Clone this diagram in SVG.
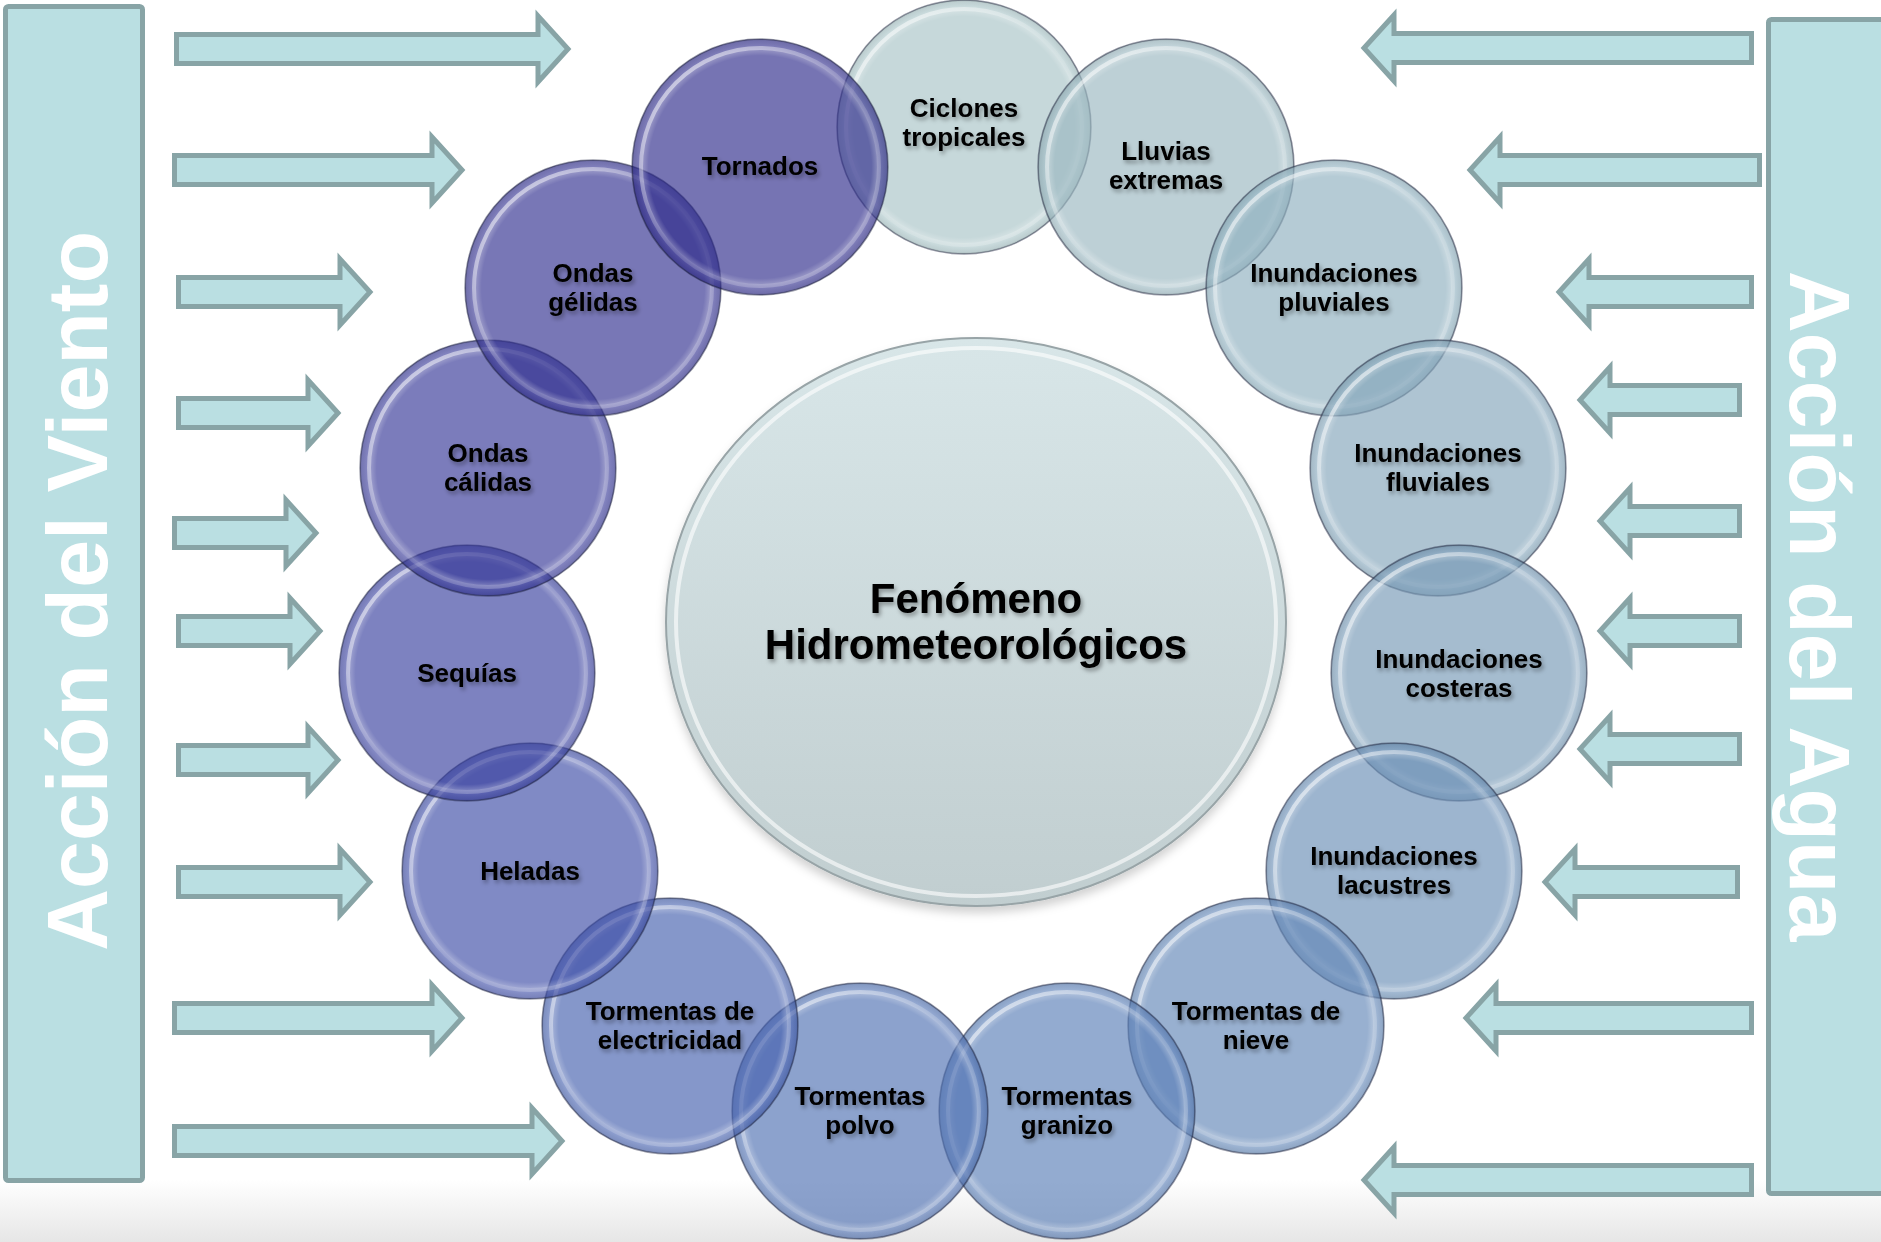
<svg xmlns="http://www.w3.org/2000/svg" width="1881" height="1242" viewBox="0 0 1881 1242">
<defs>
<style>
.bar{fill:#badfe2;stroke:#88a4a6;stroke-width:5}
.arr{fill:#badfe2;stroke:#88a4a6;stroke-width:5;stroke-linejoin:miter}
.side{font-family:"Liberation Sans",Arial,sans-serif;font-weight:bold;font-size:86px;fill:#ffffff}
.lbl{font-family:"Liberation Sans",Arial,sans-serif;font-weight:bold;font-size:26px;fill:#000;text-anchor:middle;filter:url(#tsh)}
.big{font-family:"Liberation Sans",Arial,sans-serif;font-weight:bold;font-size:42px;fill:#000;text-anchor:middle;filter:url(#tsh)}
.disc{fill-opacity:0.65;stroke:#1e2440;stroke-opacity:0.45;stroke-width:1.5}
.rim{fill:url(#rim)}
.hl{fill:none;stroke:url(#hl);stroke-width:4}
</style>
<linearGradient id="band" x1="0" y1="0" x2="0" y2="1">
<stop offset="0" stop-color="#ffffff"/>
<stop offset="1" stop-color="#e6e6e6"/>
</linearGradient>
<radialGradient id="rim" cx="0.5" cy="0.5" r="0.5">
<stop offset="0" stop-color="#fff" stop-opacity="0"/>
<stop offset="0.87" stop-color="#fff" stop-opacity="0"/>
<stop offset="0.91" stop-color="#fff" stop-opacity="0.2"/>
<stop offset="0.95" stop-color="#fff" stop-opacity="0.05"/>
<stop offset="0.985" stop-color="#000" stop-opacity="0.04"/>
<stop offset="1" stop-color="#000" stop-opacity="0.2"/>
</radialGradient>
<linearGradient id="hl" x1="0" y1="0" x2="1" y2="1">
<stop offset="0" stop-color="#fff" stop-opacity="0.7"/>
<stop offset="0.5" stop-color="#fff" stop-opacity="0.12"/>
<stop offset="1" stop-color="#fff" stop-opacity="0.3"/>
</linearGradient>
<linearGradient id="bigfill" x1="0" y1="0" x2="0" y2="1">
<stop offset="0" stop-color="#d8e6e8"/>
<stop offset="1" stop-color="#c1ced0"/>
</linearGradient>
<filter id="tsh" x="-20%" y="-50%" width="140%" height="200%">
<feGaussianBlur in="SourceAlpha" stdDeviation="2"/>
<feOffset dx="2" dy="3" result="b"/>
<feFlood flood-color="#000" flood-opacity="0.35"/>
<feComposite in2="b" operator="in"/>
<feMerge><feMergeNode/><feMergeNode in="SourceGraphic"/></feMerge>
</filter>
<filter id="dsh" x="-10%" y="-10%" width="120%" height="125%">
<feGaussianBlur in="SourceAlpha" stdDeviation="5"/>
<feOffset dx="0" dy="6" result="b"/>
<feFlood flood-color="#000" flood-opacity="0.18"/>
<feComposite in2="b" operator="in"/>
<feMerge><feMergeNode/><feMergeNode in="SourceGraphic"/></feMerge>
</filter>
</defs>

<rect x="0" y="0" width="1881" height="1242" fill="#ffffff"/>
<rect x="0" y="1180" width="1881" height="62" fill="url(#band)"/>

<g id="accion-viento">
<rect class="bar" x="5.5" y="6.5" width="137" height="1174" rx="3"/>
<text class="side" transform="translate(107,591) rotate(-90)" text-anchor="middle">Acción del Viento</text>
</g>
<g id="accion-agua">
<rect class="bar" x="1768.5" y="19.5" width="130" height="1174" rx="3"/>
<text class="side" transform="translate(1790,606) rotate(90)" text-anchor="middle">Acción del Agua</text>
</g>

<g id="arrows">
<polygon class="arr" points="176.5,34.5 538,34.5 538,16 568,49 538,82 538,63.5 176.5,63.5"/>
<polygon class="arr" points="174.5,155.5 432,155.5 432,137 462,170 432,203 432,184.5 174.5,184.5"/>
<polygon class="arr" points="178.5,277.5 340,277.5 340,259 370,292 340,325 340,306.5 178.5,306.5"/>
<polygon class="arr" points="178.5,398.5 308,398.5 308,380 338,413 308,446 308,427.5 178.5,427.5"/>
<polygon class="arr" points="174.5,518.5 286,518.5 286,500 316,533 286,566 286,547.5 174.5,547.5"/>
<polygon class="arr" points="178.5,616.5 290,616.5 290,598 320,631 290,664 290,645.5 178.5,645.5"/>
<polygon class="arr" points="178.5,745.5 308,745.5 308,727 338,760 308,793 308,774.5 178.5,774.5"/>
<polygon class="arr" points="178.5,867.5 340,867.5 340,849 370,882 340,915 340,896.5 178.5,896.5"/>
<polygon class="arr" points="174.5,1003.5 432,1003.5 432,985 462,1018 432,1051 432,1032.5 174.5,1032.5"/>
<polygon class="arr" points="174.5,1126.5 532,1126.5 532,1108 562,1141 532,1174 532,1155.5 174.5,1155.5"/>

<polygon class="arr" points="1751.5,33.5 1394,33.5 1394,15 1364,48 1394,81 1394,62.5 1751.5,62.5"/>
<polygon class="arr" points="1759.5,155.5 1500,155.5 1500,137 1470,170 1500,203 1500,184.5 1759.5,184.5"/>
<polygon class="arr" points="1751.5,277.5 1589,277.5 1589,259 1559,292 1589,325 1589,306.5 1751.5,306.5"/>
<polygon class="arr" points="1739.5,385.5 1610,385.5 1610,367 1580,400 1610,433 1610,414.5 1739.5,414.5"/>
<polygon class="arr" points="1739.5,506.5 1630,506.5 1630,488 1600,521 1630,554 1630,535.5 1739.5,535.5"/>
<polygon class="arr" points="1739.5,616.5 1630,616.5 1630,598 1600,631 1630,664 1630,645.5 1739.5,645.5"/>
<polygon class="arr" points="1739.5,734.5 1610,734.5 1610,716 1580,749 1610,782 1610,763.5 1739.5,763.5"/>
<polygon class="arr" points="1737.5,867.5 1575,867.5 1575,849 1545,882 1575,915 1575,896.5 1737.5,896.5"/>
<polygon class="arr" points="1751.5,1003.5 1496,1003.5 1496,985 1466,1018 1496,1051 1496,1032.5 1751.5,1032.5"/>
<polygon class="arr" points="1751.5,1165.5 1394,1165.5 1394,1147 1364,1180 1394,1213 1394,1194.5 1751.5,1194.5"/>
</g>

<g id="centro" filter="url(#dsh)">
<ellipse cx="976" cy="622" rx="310" ry="284" fill="url(#bigfill)" stroke="#98a4a7" stroke-width="2"/>
<ellipse cx="976" cy="622" rx="300" ry="274" fill="none" stroke="#ffffff" stroke-opacity="0.6" stroke-width="4"/>
<text class="big" x="976" y="613">Fenómeno</text>
<text class="big" x="976" y="659">Hidrometeorológicos</text>
</g>

<g id="ciclones">
<circle class="disc" cx="964" cy="127" r="127" fill="#a7c3c6"/>
<circle class="rim" cx="964" cy="127" r="127"/>
<circle class="hl" cx="964" cy="127" r="118"/>
<text class="lbl" x="964" y="117">Ciclones</text>
<text class="lbl" x="964" y="146">tropicales</text>
</g>
<g id="lluvias">
<circle class="disc" cx="1166" cy="167" r="128" fill="#99b7c0"/>
<circle class="rim" cx="1166" cy="167" r="128"/>
<circle class="hl" cx="1166" cy="167" r="119"/>
<text class="lbl" x="1166" y="160">Lluvias</text>
<text class="lbl" x="1166" y="189">extremas</text>
</g>
<g id="pluviales">
<circle class="disc" cx="1334" cy="288" r="128" fill="#8dafbe"/>
<circle class="rim" cx="1334" cy="288" r="128"/>
<circle class="hl" cx="1334" cy="288" r="119"/>
<text class="lbl" x="1334" y="282">Inundaciones</text>
<text class="lbl" x="1334" y="311">pluviales</text>
</g>
<g id="fluviales">
<circle class="disc" cx="1438" cy="468" r="128" fill="#82a4ba"/>
<circle class="rim" cx="1438" cy="468" r="128"/>
<circle class="hl" cx="1438" cy="468" r="119"/>
<text class="lbl" x="1438" y="462">Inundaciones</text>
<text class="lbl" x="1438" y="491">fluviales</text>
</g>
<g id="costeras">
<circle class="disc" cx="1459" cy="673" r="128" fill="#7598b5"/>
<circle class="rim" cx="1459" cy="673" r="128"/>
<circle class="hl" cx="1459" cy="673" r="119"/>
<text class="lbl" x="1459" y="668">Inundaciones</text>
<text class="lbl" x="1459" y="697">costeras</text>
</g>
<g id="lacustres">
<circle class="disc" cx="1394" cy="871" r="128" fill="#688db5"/>
<circle class="rim" cx="1394" cy="871" r="128"/>
<circle class="hl" cx="1394" cy="871" r="119"/>
<text class="lbl" x="1394" y="865">Inundaciones</text>
<text class="lbl" x="1394" y="894">lacustres</text>
</g>
<g id="nieve">
<circle class="disc" cx="1256" cy="1026" r="128" fill="#6185b7"/>
<circle class="rim" cx="1256" cy="1026" r="128"/>
<circle class="hl" cx="1256" cy="1026" r="119"/>
<text class="lbl" x="1256" y="1020">Tormentas de</text>
<text class="lbl" x="1256" y="1049">nieve</text>
</g>
<g id="granizo">
<circle class="disc" cx="1067" cy="1111" r="128" fill="#597eb7"/>
<circle class="rim" cx="1067" cy="1111" r="128"/>
<circle class="hl" cx="1067" cy="1111" r="119"/>
<text class="lbl" x="1067" y="1105">Tormentas</text>
<text class="lbl" x="1067" y="1134">granizo</text>
</g>
<g id="polvo">
<circle class="disc" cx="860" cy="1111" r="128" fill="#4e70b2"/>
<circle class="rim" cx="860" cy="1111" r="128"/>
<circle class="hl" cx="860" cy="1111" r="119"/>
<text class="lbl" x="860" y="1105">Tormentas</text>
<text class="lbl" x="860" y="1134">polvo</text>
</g>
<g id="electricidad">
<circle class="disc" cx="670" cy="1026" r="128" fill="#435fad"/>
<circle class="rim" cx="670" cy="1026" r="128"/>
<circle class="hl" cx="670" cy="1026" r="119"/>
<text class="lbl" x="670" y="1020">Tormentas de</text>
<text class="lbl" x="670" y="1049">electricidad</text>
</g>
<g id="heladas">
<circle class="disc" cx="530" cy="871" r="128" fill="#3c4ba6"/>
<circle class="rim" cx="530" cy="871" r="128"/>
<circle class="hl" cx="530" cy="871" r="119"/>
<text class="lbl" x="530" y="880">Heladas</text>
</g>
<g id="sequias">
<circle class="disc" cx="467" cy="673" r="128" fill="#373f9e"/>
<circle class="rim" cx="467" cy="673" r="128"/>
<circle class="hl" cx="467" cy="673" r="119"/>
<text class="lbl" x="467" y="682">Sequías</text>
</g>
<g id="ondas-calidas">
<circle class="disc" cx="488" cy="468" r="128" fill="#343596"/>
<circle class="rim" cx="488" cy="468" r="128"/>
<circle class="hl" cx="488" cy="468" r="119"/>
<text class="lbl" x="488" y="462">Ondas</text>
<text class="lbl" x="488" y="491">cálidas</text>
</g>
<g id="ondas-gelidas">
<circle class="disc" cx="593" cy="288" r="128" fill="#2f2e8f"/>
<circle class="rim" cx="593" cy="288" r="128"/>
<circle class="hl" cx="593" cy="288" r="119"/>
<text class="lbl" x="593" y="282">Ondas</text>
<text class="lbl" x="593" y="311">gélidas</text>
</g>
<g id="tornados">
<circle class="disc" cx="760" cy="167" r="128" fill="#2c298a"/>
<circle class="rim" cx="760" cy="167" r="128"/>
<circle class="hl" cx="760" cy="167" r="119"/>
<text class="lbl" x="760" y="175">Tornados</text>
</g>
</svg>
